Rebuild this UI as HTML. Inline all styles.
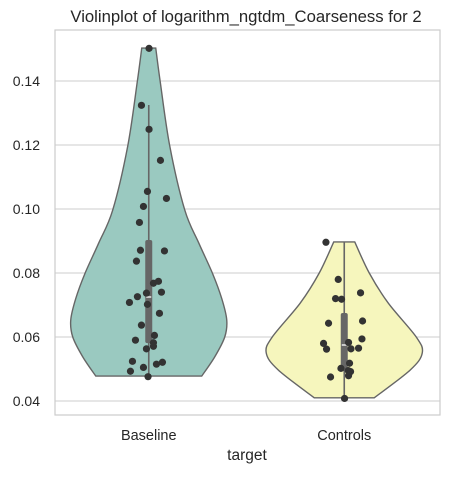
<!DOCTYPE html>
<html><head><meta charset="utf-8"><style>
body{margin:0;background:#fff;font-family:"Liberation Sans",sans-serif}
</style></head><body>
<svg id="c" width="450" height="473" xmlns="http://www.w3.org/2000/svg" font-family="Liberation Sans, sans-serif"></svg>
<script>
const categories=["Baseline","Controls"];
const colors=["#9ac9c0","#f6f6bd"];
const yTicks=[0.04,0.06,0.08,0.10,0.12,0.14];
// density profile: values and half-widths (px) of each violin
const profVals0=[0.0478,0.0538,0.0600,0.0653,0.0720,0.0797,0.0894,0.0997,0.1197,0.1397,0.1503];
const profW0=[53,66,76,78,73,64,50,36,21,11.5,7];
const profVals1=[0.0410,0.0497,0.0550,0.0600,0.0706,0.0800,0.0897];
const profW1=[30,66,78,72,44,25,10.5];
// box stats: whisker low, q1, median, q3, whisker high
const box0=[0.0478,0.0581,0.0725,0.0903,0.1325];
const box1=[0.0410,0.0497,0.0575,0.0675,0.0897];
const pts0=[0.1502,0.1324,0.1249,0.1152,0.1055,0.1033,0.1008,0.0958,0.0871,0.0869,0.0837,0.0768,0.0774,0.0737,0.0740,0.0726,0.0708,0.0702,0.0674,0.0637,0.0605,0.0590,0.0582,0.0571,0.0563,0.0524,0.0521,0.0515,0.0493,0.0505,0.0476];
const jit0=[0.3,-7.3,0.3,11.7,-1.3,17.7,-5.3,-9.3,-8.3,15.7,-12.3,4.7,9.7,-2.3,12.7,-11.3,-19.3,-1.3,10.7,-7.3,5.7,-13.3,4.7,4.7,-2.3,-16.3,13.7,7.7,-18.3,-5.3,-0.7];
const pts1=[0.0896,0.0780,0.0738,0.0720,0.0718,0.0650,0.0643,0.0594,0.0580,0.0583,0.0562,0.0563,0.0565,0.0518,0.0502,0.0495,0.0492,0.0479,0.0475,0.0408];
const jit1=[-18.3,-6,16.3,-8.7,-2.7,18.3,-15.7,17.7,-20.7,4.3,-17.7,6.7,14.3,5.3,-3.3,4,6.3,4.3,-13.7,0.3];

const svg=document.getElementById('c');
const NS="http://www.w3.org/2000/svg";
const L=55,R=440,T=30,B=415;
const y=v=>401-(v-0.04)*3200;
const x=i=>L+(R-L)/categories.length*(i+0.5)-(i?-0.5:2.5);
function mk(t,a,p){const e=document.createElementNS(NS,t);for(const k in a)e.setAttribute(k,a[k]);(p||svg).appendChild(e);return e;}

let e=mk('rect',{x:L,y:T,width:R-L,height:B-T,fill:'#fff',stroke:'#ccc','stroke-width':1.2});


yTicks.forEach(t=>{
  let g=mk('line',{x1:L,x2:R,y1:y(t),y2:y(t),stroke:'#ccc','stroke-width':1});
  
  
  let l=mk('text',{x:L-15,y:y(t)+5,'text-anchor':'end','font-size':14,fill:'#262626'});
  l.textContent=t.toFixed(2);
  
  
});

function spline(pts){
  let d='M'+pts[0][0]+','+pts[0][1];
  for(let i=0;i<pts.length-1;i++){
    const p0=pts[Math.max(0,i-1)],p1=pts[i],p2=pts[i+1],p3=pts[Math.min(pts.length-1,i+2)];
    d+=' C'+(p1[0]+(p2[0]-p0[0])/6)+','+(p1[1]+(p2[1]-p0[1])/6)+' '+(p2[0]-(p3[0]-p1[0])/6)+','+(p2[1]-(p3[1]-p1[1])/6)+' '+p2[0]+','+p2[1];
  }
  return d;
}
const profs=[[profVals0,profW0],[profVals1,profW1]];
const boxes=[box0,box1],pts=[pts0,pts1],jits=[jit0,jit1];
categories.forEach((c,i)=>{
  const cx=x(i),[vs,ws]=profs[i];
  const right=vs.map((v,k)=>[cx+ws[k],y(v)]);
  const left=vs.map((v,k)=>[cx-ws[k],y(v)]).reverse();
  let d=spline(right)+' L'+left[0][0]+','+left[0][1]+spline(left).replace(/^M[^C]*/,'')+' Z';
  let v=mk('path',{d:d,fill:colors[i],stroke:'#666','stroke-width':1.4});
  
  
  const b=boxes[i];
  let w=mk('line',{x1:cx,x2:cx,y1:y(b[0]),y2:y(b[4]),stroke:'#666','stroke-width':1.6});
  
  
  let bx=mk('rect',{x:cx-3.5,y:y(b[3]),width:7,height:y(b[1])-y(b[3]),rx:2,fill:'#666'});
  
  
  let m=mk('line',{x1:cx-2.5,x2:cx+2.5,y1:y(b[2]),y2:y(b[2]),stroke:'#fff','stroke-width':1.3});
  
  
  pts[i].forEach((p,k)=>{
    let d=mk('circle',{cx:cx+jits[i][k],cy:y(p),r:3.6,fill:'#333'});
    
    
  });
  let t=mk('text',{x:cx,y:440,'text-anchor':'middle','font-size':14.5,fill:'#262626'});
  t.textContent=c;
  
  
});
let xt=mk('text',{x:247,y:460,'text-anchor':'middle','font-size':15.5,fill:'#262626'});
xt.textContent='target';


let tt=mk('text',{x:246,y:22,'text-anchor':'middle','font-size':16.7,fill:'#262626'});
tt.textContent='Violinplot of logarithm_ngtdm_Coarseness for 2';


</script>
</body></html>
